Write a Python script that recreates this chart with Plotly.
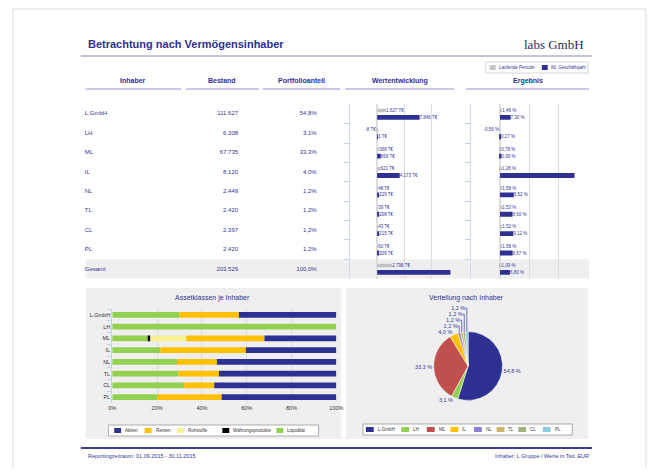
import plotly.graph_objects as go

# page body has an 8px margin; the figure is sized to fit the 662x476 window exactly
OFF = 8
W, H = 662 - 2 * OFF, 476 - 2 * OFF


def px(x):
    return (x - OFF) / W


def py(y):
    return 1 - (y - OFF) / H


NAVY = "#2e3192"
TXT = "#34379a"
GRAY = "#c3c3c3"
FONT = "Liberation Sans, Arial, sans-serif"

# ---------------- data ----------------
inhaber = ["L.GmbH", "LH", "ML", "IL", "NL", "TL", "CL", "PL", "Gesamt"]
bestand = [111627, 6308, 67735, 8120, 2449, 2420, 2397, 2420, 203529]
anteil = [54.8, 3.1, 33.3, 4.0, 1.2, 1.2, 1.2, 1.2, 100.0]
wert_vor = [1627, -8, 368, 621, 48, 39, 43, 60, 2798]
wert_akt = [7846, 1, 669, 4173, 229, 208, 215, 209, 13550]
erg_vor = [1.46, -0.56, 0.78, 1.28, 1.58, 1.53, 1.52, 1.58, 1.09]
erg_akt = [7.30, 0.27, 0.99, 51.39, 9.52, 8.60, 9.12, 8.67, 6.80]
serien_namen = ["Laufende Periode", "lfd. Geschäftsjahr"]

asset_inhaber = ["L.GmbH", "LH", "ML", "IL", "NL", "TL", "CL", "PL"]
liquiditaet = [30.0, 100.0, 15.8, 21.5, 28.9, 29.5, 32.1, 20.1]
waehrung = [0.0, 0.0, 1.2, 0.0, 0.0, 0.0, 0.0, 0.0]
rohstoffe = [0.0, 0.0, 16.0, 0.0, 0.0, 0.0, 0.0, 0.0]
renten = [26.5, 0.0, 34.9, 38.1, 17.8, 18.1, 13.4, 28.7]
aktien = [43.5, 0.0, 32.1, 40.4, 53.3, 52.4, 54.5, 51.2]
asset_ticks = [0, 20, 40, 60, 80, 100]

pie_labels = ["L.GmbH", "LH", "ML", "IL", "NL", "TL", "CL", "PL"]
pie_values = [111627, 6308, 67735, 8120, 2449, 2420, 2397, 2420]
pie_anteil = [54.8, 3.1, 33.3, 4.0, 1.2, 1.2, 1.2, 1.2]
pie_colors = ["#2e3192", "#92d050", "#c0504d", "#ffc000", "#8b7fd4", "#cdb56e", "#a3b384", "#8fc9de"]


def de_int(v):
    return f"{v:,.0f}".replace(",", ".")


def de_dec(v, d):
    return f"{v:.{d}f}".replace(".", ",")


rows = list(range(len(inhaber)))
fig = go.Figure()

# ---------------- table text ----------------
tf = dict(size=6, color=TXT, family=FONT)
fig.add_trace(go.Scatter(x=[82] * len(rows), y=rows, text=inhaber, mode="text",
                         textposition="middle right", textfont=tf,
                         xaxis="x", yaxis="y", hoverinfo="skip", showlegend=False))
fig.add_trace(go.Scatter(x=[238] * len(rows), y=rows, text=[de_int(v) for v in bestand],
                         mode="text", textposition="middle left", textfont=tf,
                         xaxis="x", yaxis="y", hoverinfo="skip", showlegend=False))
fig.add_trace(go.Scatter(x=[318] * len(rows), y=rows, text=[de_dec(v, 1) + "%" for v in anteil],
                         mode="text", textposition="middle left", textfont=tf,
                         xaxis="x", yaxis="y", hoverinfo="skip", showlegend=False))

# ---------------- mini bars ----------------
bf = dict(size=4.5, color=TXT, family=FONT)
wt_vor = [de_int(v) + " T€" for v in wert_vor]
wt_akt = [de_int(v) + " T€" for v in wert_akt]
wt_akt[-1] = ""
et_vor = [de_dec(v, 2) + " %" for v in erg_vor]
et_akt = [de_dec(v, 2) + " %" for v in erg_akt]
et_akt[3] = ""

for xa, ya, vor, akt, tv, ta in [("x2", "y2", wert_vor, wert_akt, wt_vor, wt_akt),
                                 ("x3", "y3", erg_vor, erg_akt, et_vor, et_akt)]:
    fig.add_trace(go.Bar(x=vor, y=rows, orientation="h", width=0.18, offset=-0.27,
                         marker=dict(color=GRAY, line_width=0), text=tv, textposition="outside",
                         textfont=bf, constraintext="none", cliponaxis=False,
                         xaxis=xa, yaxis=ya, showlegend=False, name=serien_namen[0]))
    fig.add_trace(go.Bar(x=akt, y=rows, orientation="h", width=0.25, offset=0.05,
                         marker=dict(color=NAVY, line_width=0), text=ta, textposition="outside",
                         textfont=bf, constraintext="none", cliponaxis=False,
                         xaxis=xa, yaxis=ya, showlegend=False, name=serien_namen[1]))

# ---------------- stacked asset bars ----------------
stack = [("Liquidität", liquiditaet, "#92d050"),
         ("Währungsprodukte", waehrung, "#000000"),
         ("Rohstoffe", rohstoffe, "#f7f394"),
         ("Renten", renten, "#ffc000"),
         ("Aktien", aktien, NAVY)]
base = [0.0] * len(asset_inhaber)
for name, vals, col in stack:
    fig.add_trace(go.Bar(x=vals, y=asset_inhaber, base=list(base), orientation="h", width=0.5,
                         marker=dict(color=col, line_width=0), name=name,
                         xaxis="x4", yaxis="y4", showlegend=False))
    base = [b + v for b, v in zip(base, vals)]

# ---------------- pie ----------------
fig.add_trace(go.Pie(values=pie_values, labels=pie_labels, sort=False, direction="clockwise",
                     rotation=0, marker=dict(colors=pie_colors, line=dict(color="white", width=0.5)),
                     text=[de_dec(v, 1) + " %" for v in pie_anteil],
                     textinfo="text", textposition="outside",
                     textfont=dict(size=5.5, color=TXT, family=FONT),
                     domain=dict(x=[px(437), px(507)], y=[py(401), py(331)]),
                     showlegend=False, hoverinfo="label+percent"))

# ---------------- shapes & annotations ----------------
shapes = []
ann = []


def rect(x0, y0, x1, y1, fill, line=None, lw=0):
    shapes.append(dict(type="rect", xref="paper", yref="paper", x0=px(x0), x1=px(x1),
                       y0=py(y1), y1=py(y0), fillcolor=fill,
                       line=dict(color=line or fill, width=lw), layer="below"))


def hline(x0, x1, y, color, w):
    shapes.append(dict(type="line", xref="paper", yref="paper", x0=px(x0), x1=px(x1),
                       y0=py(y), y1=py(y), line=dict(color=color, width=w)))


def text(x, y, s, size, color=TXT, anchor="left", bold=False, family=FONT):
    ann.append(dict(x=px(x), y=py(y), xref="paper", yref="paper", text=("<b>%s</b>" % s) if bold else s,
                    showarrow=False, xanchor=anchor, yanchor="middle",
                    font=dict(size=size, color=color, family=family)))


# page frame
rect(9, 9, 653, 469, "rgba(0,0,0,0)", "#dedede", 1)

# header
text(83, 44, "Betrachtung nach Vermögensinhaber", 11, NAVY, bold=True)
text(592, 44, "labs GmbH", 13, "#2b2b5e", anchor="right", family="Liberation Serif, serif")
hline(78, 598, 56, "#c4c4e6", 2)

# top legend
rect(490, 62, 594, 73, "white", "#cfcfcf", 0.8)
rect(494, 65, 500, 70, GRAY)
text(501.5, 67.5, serien_namen[0], 4.5)
rect(547, 65, 553, 70, NAVY)
text(554.5, 67.5, serien_namen[1], 4.5)

# column headers
headers = [("Inhaber", 83, 180), ("Bestand", 185, 259), ("Portfolioanteil", 263, 342),
           ("Wertentwicklung", 347, 458), ("Ergebnis", 470, 595)]
for h, x0, x1 in headers:
    text((x0 + x1) / 2, 81, h, 7, NAVY, anchor="center", bold=True)
    hline(x0, x1, 89, "#b9b9e0", 1.5)

# Gesamt band
shapes.append(dict(type="rect", xref="paper", yref="y", x0=px(83), x1=px(595), y0=7.5, y1=8.5,
                   fillcolor="#efefef", line_width=0, layer="below"))

# panels
rect(83, 288, 343, 439, "#efefef")
rect(348, 288, 594, 439, "#efefef")
text(212, 298, "Assetklassen je Inhaber", 7, NAVY, anchor="center")
text(470, 298, "Verteilung nach Inhaber", 7, NAVY, anchor="center")

# asset legend
rect(106, 425, 320, 436, "white", "#9a9a9a", 0.8)
leg_items = [("Aktien", NAVY, 112), ("Renten", "#ffc000", 143), ("Rohstoffe", "#f7f394", 176),
             ("Währungsprodukte", "#000000", 222), ("Liquidität", "#92d050", 277)]
for name, col, x in leg_items:
    rect(x, 428, x + 7, 433, col)
    text(x + 9, 430.5, name, 4.5, "#333333")

# pie legend
rect(365, 424, 578, 435, "white", "#9a9a9a", 0.8)
pie_leg_x = [368, 404, 430, 454, 478, 501, 523, 548]
for name, col, x in zip(pie_labels, pie_colors, pie_leg_x):
    rect(x, 427, x + 8, 432, col)
    text(x + 10, 429.5, name, 4.5, "#333333")

# footer
hline(78, 598, 448, "#3a3d9c", 2)
text(83, 456, "Reportingzeitraum: 01.09.2015 - 30.11.2015", 5.5)
text(597, 456, "Inhaber: L Gruppe / Werte in Tsd. EUR", 5.5, anchor="right")

ROW_DOM = [py(278.7), py(104.3)]
boundaries = [i + 0.5 for i in range(8)]
mini_y = dict(domain=ROW_DOM, range=[8.5, -0.5], showgrid=False, zeroline=False, showline=True,
              linecolor="#d3dcec", linewidth=1, tickvals=boundaries, ticks="outside", ticklen=5,
              tickcolor="#c3d0ea", showticklabels=False, fixedrange=True)

fig.update_layout(
    width=W, height=H, margin=dict(l=0, r=0, t=0, b=0),
    paper_bgcolor="white", plot_bgcolor="rgba(0,0,0,0)",
    barmode="overlay", font=dict(family=FONT, color=TXT), showlegend=False,
    shapes=shapes, annotations=ann,
    xaxis=dict(domain=[0, 1], range=[OFF, W + OFF], visible=False, fixedrange=True),
    yaxis=dict(domain=ROW_DOM, range=[8.5, -0.5], visible=False, fixedrange=True),
    xaxis2=dict(domain=[px(352), px(462)], range=[-5000, 15000], tick0=0, dtick=5000,
                showgrid=True, gridcolor="#dddddd", zeroline=True, zerolinecolor="#dddddd",
                showticklabels=False, anchor="y2", fixedrange=True),
    yaxis2=dict(anchor="x2", **mini_y),
    xaxis3=dict(domain=[px(475), px(590)], range=[-20, 58], tick0=0, dtick=20,
                showgrid=True, gridcolor="#dddddd", zeroline=True, zerolinecolor="#dddddd",
                showticklabels=False, anchor="y3", fixedrange=True),
    yaxis3=dict(anchor="x3", **mini_y),
    xaxis4=dict(domain=[px(110), px(338)], range=[0, 100], tickvals=asset_ticks,
                ticktext=[f"{t}%" for t in asset_ticks], showgrid=True, gridcolor="#dcdcdc",
                zeroline=False, tickfont=dict(size=5.5, color="#333333"), anchor="y4",
                fixedrange=True),
    yaxis4=dict(domain=[py(403), py(309)], categoryorder="array", categoryarray=asset_inhaber,
                autorange="reversed", tickfont=dict(size=5.5, color="#333333"), showline=True,
                linecolor="#c3d0ea", ticks="outside", tickson="boundaries", ticklen=4,
                tickcolor="#c3d0ea", anchor="x4", fixedrange=True),
)

fig.write_html("out.html")
